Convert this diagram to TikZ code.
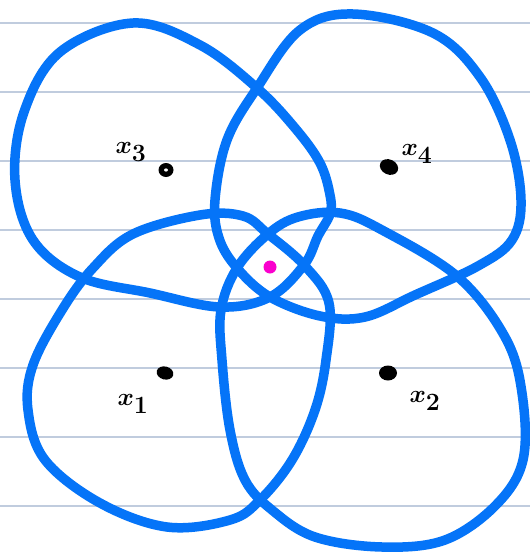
\documentclass[tikz,border=0pt]{standalone}
\usepackage{tikz}
\definecolor{penblue}{RGB}{5,116,248}
\definecolor{rule}{RGB}{192,204,222}
\definecolor{pink}{RGB}{250,0,205}
\begin{document}
\begin{tikzpicture}[x=1pt,y=-1pt,
  blob/.style={draw=penblue,line width=9.5pt,line join=round,line cap=round},
  ruleline/.style={draw=rule,line width=1.5pt},
  lbl/.style={inner sep=0pt,font=\fontsize{42}{46}\selectfont\boldmath}]
\useasboundingbox (0,0) rectangle (530,552);
\fill[white] (0,0) rectangle (530,552);
\foreach \yy in {23,92,161,230,299,368,437,506}
  \draw[ruleline] (0,\yy) -- (530,\yy);
% blob A (x3, top-left)
\draw[blob] plot[smooth cycle,tension=0.6] coordinates {
(133,23) (200,45) (257,88) (295,128) (320,163) (330,195) (330,214) (318,236) (304,265) (270,297) (220,307) (150,293) (80,277) (33,240) (15,180) (24,112) (60,52)};
% blob B (x4, top-right)
\draw[blob] plot[smooth cycle,tension=0.6] coordinates {
(353,14) (433,33) (480,77) (510,140) (521,200) (512,240) (478,266) (415,295) (365,317) (320,316) (270,297) (237,268) (219,238) (215,200) (227,140) (257,88) (300,30)};
% blob C (x2, bottom-right)
\draw[blob] plot[smooth cycle,tension=0.6] coordinates {
(237,268) (268,234) (298,217) (340,213) (382,230) (458,277) (505,337) (522,393) (523,460) (496,505) (445,540) (382,547) (315,537) (272,510) (245,480) (230,430) (222,360) (221,310)};
% blob D (x1, bottom-left)
\draw[blob] plot[smooth cycle,tension=0.6] coordinates {
(268,234) (305,266) (329,303) (326,360) (315,410) (292,460) (260,500) (230,520) (167,527) (100,503) (45,460) (28,410) (33,365) (62,310) (93,268) (133,234) (200,215) (243,216)};
% points
\fill[black] (166,170) ellipse [x radius=7.5,y radius=7];
\fill[white] (166,170) ellipse [x radius=2,y radius=1.6];
\coordinate (p3) at (166,170);
\fill[black,rotate around={-25:(389,167)}] (389,167) ellipse [x radius=9.5,y radius=7.5];
\coordinate (p4) at (389,167);
\fill[black,rotate around={-15:(165,373)}] (165,373) ellipse [x radius=8.5,y radius=6.5];
\coordinate (p1) at (165,373);
\fill[black] (388,373) ellipse [x radius=9,y radius=7.5];
\coordinate (p2) at (388,373);
\fill[pink] (270,267) circle [radius=6.5];
\coordinate (c) at (270,267);
% labels
\node[lbl] (l3) at (131,152) {$x_3$};
\node[lbl] (l4) at (417,154) {$x_4$};
\node[lbl] (l1) at (133,404) {$x_1$};
\node[lbl] (l2) at (425,401) {$x_2$};
\end{tikzpicture}
\end{document}
